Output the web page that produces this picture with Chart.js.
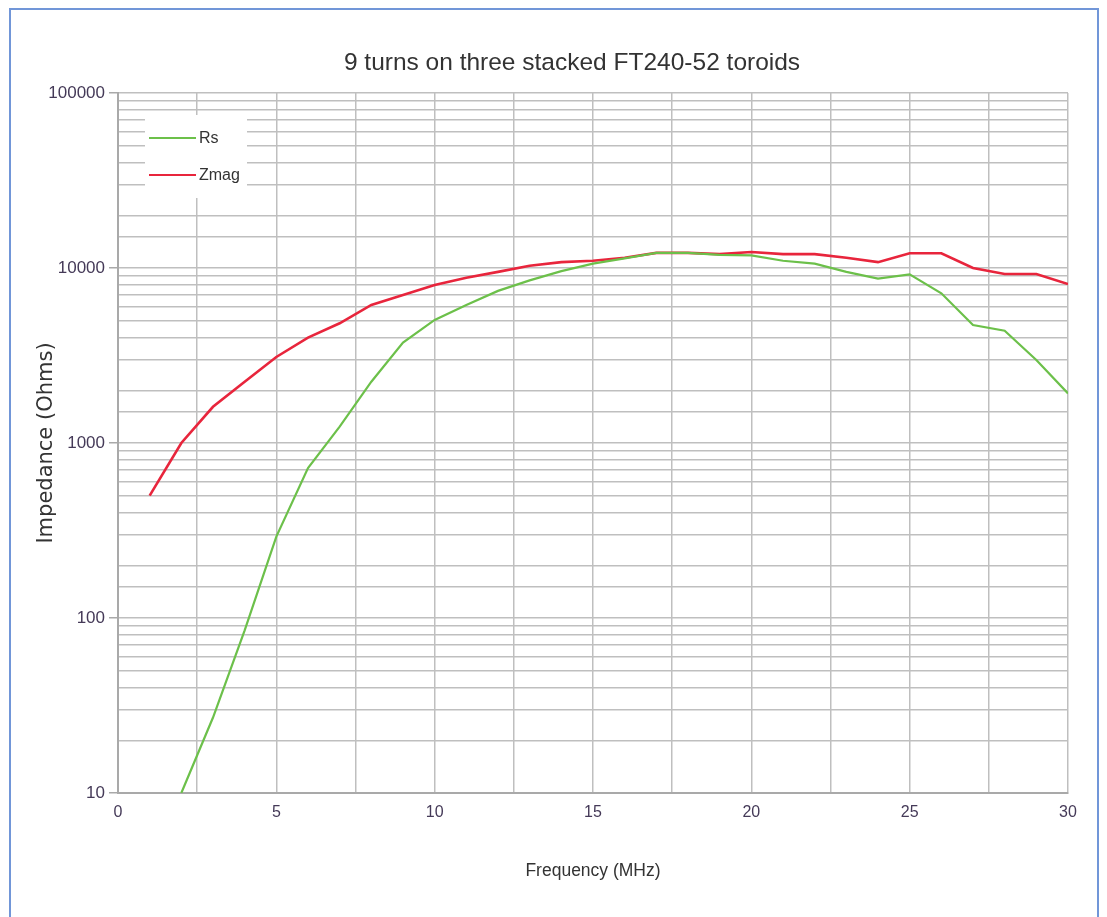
<!DOCTYPE html>
<html>
<head>
<meta charset="utf-8">
<script src="https://cdn.jsdelivr.net/npm/chart.js@4.4.1/dist/chart.umd.min.js"></script>
<style>
  html, body { margin: 0; padding: 0; background: #fff; }
  #wrap { position: relative; width: 1107px; height: 917px; overflow: hidden; }
  #frame { position: absolute; left: 9px; top: 8px; width: 1090px; height: 940px;
           border: 2px solid #7196d8; box-sizing: border-box; }
  #chart { position: absolute; left: 0; top: 0; }
</style>
</head>
<body>
<div id="wrap">
  <div id="frame"></div>
  <canvas id="chart" width="1107" height="917"></canvas>
</div>
<script>
// Frequency points (MHz) and measured values (Ohms)
const freq = [1, 2, 3, 4, 5, 6, 7, 8, 9, 10, 11, 12, 13, 14, 15,
              16, 17, 18, 19, 20, 21, 22, 23, 24, 25, 26, 27, 28, 29, 30];
const rs = [null, 10, 27, 85, 292, 720, 1240, 2240, 3750, 5050, 6150, 7400, 8500, 9600, 10600,
            11350, 12200, 12200, 11900, 11800, 11000, 10600, 9500, 8700, 9200, 7170, 4720, 4380, 2980, 1920];
const zmag = [500, 1000, 1610, 2240, 3100, 4000, 4830, 6150, 7000, 8000, 8800, 9500, 10300, 10800, 11000,
              11450, 12200, 12200, 12000, 12350, 12000, 12000, 11450, 10800, 12150, 12150, 10000, 9240, 9240, 8100];

const seriesNames = ['Rs', 'Zmag'];
const xTickLabels = [0, 5, 10, 15, 20, 25, 30];
const yTickLabels = [10, 100, 1000, 10000, 100000];
const chartTitle = '9 turns on three stacked FT240-52 toroids';

const sans = '"Liberation Sans", Arial, sans-serif';
const labelColor = '#453a58';
const gridColor = '#bfbfbf';

const isMajor = v => yTickLabels.includes(Math.round(v));

// title sits a bit left of the plot centre in the original, so draw it here
const offsetTitle = {
    id: 'offsetTitle',
    afterDraw(chart) {
        const ctx = chart.ctx;
        ctx.save();
        ctx.font = '24.5px ' + sans;
        ctx.fillStyle = '#333';
        ctx.textAlign = 'center';
        ctx.textBaseline = 'middle';
        ctx.fillText(chartTitle, 572, 63);
        ctx.restore();
    }
};

// legend box drawn inside the plot, like the original
const boxLegend = {
    id: 'boxLegend',
    afterDatasetsDraw(chart) {
        const ctx = chart.ctx;
        const x0 = 145, y0 = 115;
        ctx.save();
        ctx.fillStyle = '#fff';
        ctx.fillRect(x0, y0, 102, 83);
        ctx.font = '16px ' + sans;
        ctx.textBaseline = 'middle';
        chart.data.datasets.forEach((ds, i) => {
            const y = y0 + 23 + i * 37;
            ctx.strokeStyle = ds.borderColor;
            ctx.lineWidth = 2;
            ctx.beginPath();
            ctx.moveTo(x0 + 4, y);
            ctx.lineTo(x0 + 51, y);
            ctx.stroke();
            ctx.fillStyle = '#333';
            ctx.fillText(ds.label, x0 + 54, y + 1);
        });
        ctx.restore();
    }
};

new Chart(document.getElementById('chart'), {
    type: 'line',
    data: {
        datasets: [{
            label: seriesNames[0],
            data: freq.map((f, i) => ({ x: f, y: rs[i] })),
            borderColor: '#6cc04a',
            borderWidth: 2.2,
            pointRadius: 0,
            tension: 0
        }, {
            label: seriesNames[1],
            data: freq.map((f, i) => ({ x: f, y: zmag[i] })),
            borderColor: '#e8253c',
            borderWidth: 2.6,
            pointRadius: 0,
            tension: 0
        }]
    },
    options: {
        responsive: false,
        devicePixelRatio: 1,
        animation: false,
        layout: { padding: { left: 20, right: 39, top: 93, bottom: 0 } },
        plugins: {
            legend: { display: false },
            tooltip: { enabled: false },
            title: { display: false }
        },
        scales: {
            x: {
                type: 'linear',
                min: 0,
                max: 30,
                afterFit: s => { s.height = 124; },
                ticks: {
                    stepSize: 2.5,
                    autoSkip: false,
                    maxRotation: 0,
                    padding: 10,
                    color: labelColor,
                    font: { family: sans, size: 16 },
                    callback: v => xTickLabels.includes(v) ? String(v) : ''
                },
                grid: { color: gridColor, lineWidth: 1.5, drawTicks: false },
                border: { color: '#a9a9a9', width: 2 },
                title: {
                    display: true,
                    text: 'Frequency (MHz)',
                    color: '#333',
                    font: { family: sans, size: 17.5 },
                    padding: { top: 0, bottom: 35 }
                }
            },
            y: {
                type: 'logarithmic',
                min: 10,
                max: 100000,
                afterFit: s => { s.width = 98; },
                ticks: {
                    autoSkip: false,
                    padding: 4,
                    color: labelColor,
                    font: { family: sans, size: 17 },
                    callback: v => isMajor(v) ? String(v) : ''
                },
                grid: {
                    color: gridColor,
                    lineWidth: 1.5,
                    tickLength: 9,
                    tickColor: c => (c.tick && isMajor(c.tick.value)) ? '#a9a9a9' : 'rgba(0,0,0,0)'
                },
                border: { color: '#a9a9a9', width: 2 },
                title: {
                    display: true,
                    text: 'Impedance (Ohms)',
                    color: '#333',
                    font: { family: '"DejaVu Sans", Verdana, sans-serif', size: 21 },
                    padding: { top: 14, bottom: 0 }
                }
            }
        }
    },
    plugins: [offsetTitle, boxLegend]
});
</script>
</body>
</html>
